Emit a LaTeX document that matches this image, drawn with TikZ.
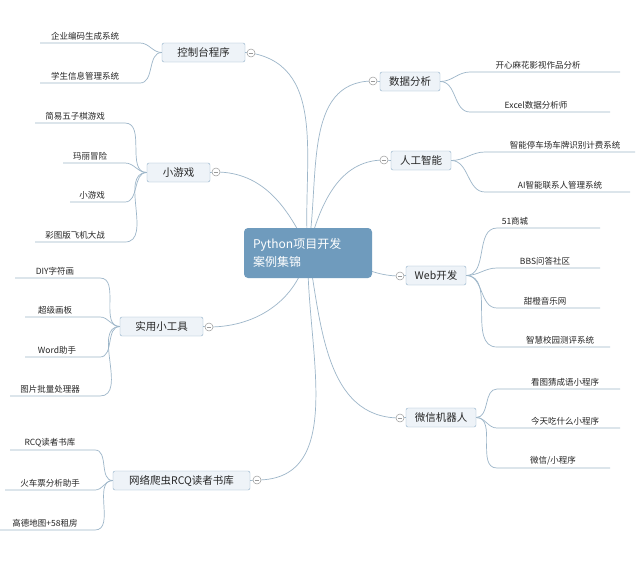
\documentclass[tikz,border=0pt]{standalone}
\usepackage{fontspec}
\setmainfont{Noto Sans CJK SC}
\begin{document}
\begin{tikzpicture}[x=1pt,y=-1pt,
  topic/.style={draw=mainline,fill=boxfill,rounded corners=2pt,minimum height=19pt,inner xsep=6pt,font=\fontsize{10.5}{12}\selectfont,text=black!85},
  sub/.style={font=\fontsize{8.5}{10}\selectfont,text=black!85,inner sep=1pt},
  con/.style={draw=lineblue,line width=0.7pt},
  tog/.style={circle,draw=gray!80,fill=white,minimum size=8pt,inner sep=0pt,line width=0.5pt}]
\definecolor{lineblue}{HTML}{9DB6C9}
\definecolor{mainline}{HTML}{8FAFC8}
\definecolor{boxfill}{HTML}{EEF3F8}
\definecolor{centerfill}{HTML}{6F9BBD}
\fill[white!97!blue!1] (0,0) rectangle (640,574);
\useasboundingbox (0,0) rectangle (640,574);
\newcommand{\tg}[2]{\node[tog] (#1) at #2 {}; \draw[gray!80,line width=0.6pt] ([xshift=-2.2pt]#1.center)--([xshift=2.2pt]#1.center);}
\coordinate (cc) at (308,250);
% topics
\node[topic,minimum width=83pt] (t1) at (203.5,52.5) {控制台程序};
\node[topic,minimum width=63pt] (t2) at (178.5,172.5) {小游戏};
\node[topic,minimum width=83pt] (t3) at (161.5,326.5) {实用小工具};
\node[topic,minimum width=137pt] (t4) at (181.5,480.5) {网络爬虫RCQ读者书库};
\node[topic,minimum width=60pt] (t5) at (410,81.5) {数据分析};
\node[topic,minimum width=60pt] (t6) at (421,160.5) {人工智能};
\node[topic,minimum width=60pt] (t7) at (436,275.5) {Web开发};
\node[topic,minimum width=70pt] (t8) at (441,417.5) {微信机器人};
% main connectors
\draw[con] (cc) to[out=95,in=-10] (251,53);
\draw[con] (cc) to[out=115,in=0] (216,172);
\draw[con] (cc) to[out=-100,in=0] (209,327);
\draw[con] (cc) to[out=-92,in=0] (257,480);
\draw[con] (cc) to[out=80,in=180] (373,81);
\draw[con] (cc) to[out=75,in=180] (384,160);
\draw[con] (cc) to[out=-5,in=180] (400,276);
\draw[con] (cc) to[out=-80,in=180] (400,418);
% center
\node[fill=centerfill,rounded corners=4pt,minimum width=128pt,minimum height=50pt,text=white,align=left,font=\fontsize{12}{18}\selectfont,text width=110pt] (c) at (308,253) {Python项目开发\\案例集锦};
\draw[con] (t1.east)--(251,53); \draw[con] (t2.east)--(216,172);
\draw[con] (t3.east)--(209,327); \draw[con] (t4.east)--(257,480);
\draw[con] (t5.west)--(373,81); \draw[con] (t6.west)--(384,160);
\draw[con] (t7.west)--(400,276); \draw[con] (t8.west)--(400,418);
\tg{g1}{(251,53)}\tg{g2}{(216,172)}\tg{g3}{(209,327)}\tg{g4}{(257,480)}
\tg{g5}{(373,81)}\tg{g6}{(384,160)}\tg{g7}{(400,276)}\tg{g8}{(400,418)}
% subs: box, textx, liney, xl, xr, text
\newcommand{\ls}[6]{\node[sub,anchor=south] at (#2,#3-2) {#6};
  \draw[con] (#1.west) to[out=180,in=0] (#5,#3) -- (#4,#3);}
\newcommand{\rs}[6]{\node[sub,anchor=south] at (#2,#3-2) {#6};
  \draw[con] (#1.east) to[out=0,in=180] (#4,#3) -- (#5,#3);}
\ls{t1}{85}{43}{40}{140}{企业编码生成系统}
\ls{t1}{85}{83}{40}{140}{学生信息管理系统}
\ls{t2}{75}{123}{35}{125}{简易五子棋游戏}
\ls{t2}{90}{163}{63}{125}{玛丽冒险}
\ls{t2}{92}{202}{70}{125}{小游戏}
\ls{t2}{75}{242}{35}{125}{彩图版飞机大战}
\ls{t3}{55}{278}{15}{100}{DIY字符画}
\ls{t3}{55}{317}{25}{100}{超级画板}
\ls{t3}{57}{357}{25}{100}{Word助手}
\ls{t3}{50}{396}{10}{100}{图片批量处理器}
\ls{t4}{50}{450}{10}{95}{RCQ读者书库}
\ls{t4}{50}{490}{5}{95}{火车票分析助手}
\ls{t4}{45}{530}{0}{95}{高德地图+58租房}
\rs{t5}{538}{72}{470}{620}{开心麻花影视作品分析}
\rs{t5}{536}{112}{470}{610}{Excel数据分析师}
\rs{t6}{565}{152}{485}{635}{智能停车场车牌识别计费系统}
\rs{t6}{560}{192}{485}{630}{AI智能联系人管理系统}
\rs{t7}{515}{228}{497}{600}{51商城}
\rs{t7}{545}{268}{497}{600}{BBS问答社区}
\rs{t7}{545}{308}{497}{600}{甜橙音乐网}
\rs{t7}{560}{347}{497}{610}{智慧校园测评系统}
\rs{t8}{565}{389}{497}{620}{看图猜成语小程序}
\rs{t8}{565}{428}{497}{620}{今天吃什么小程序}
\rs{t8}{553}{468}{497}{610}{微信/小程序}
\end{tikzpicture}
\end{document}
